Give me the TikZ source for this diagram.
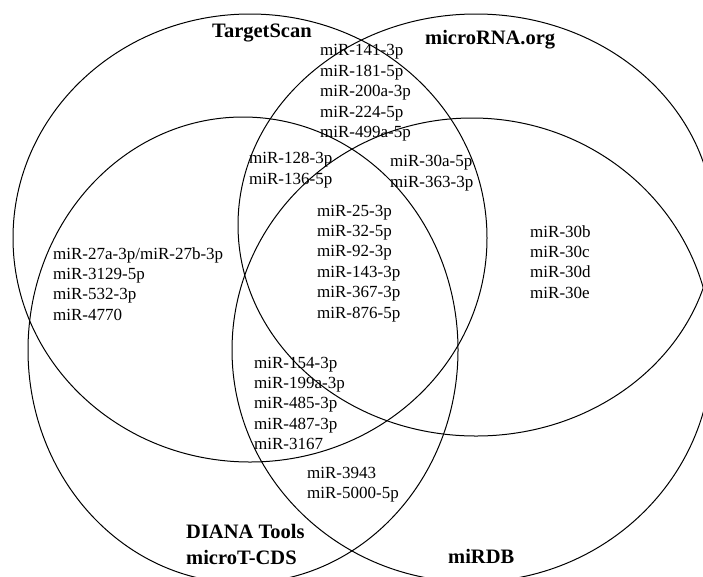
\documentclass[tikz,border=0pt]{standalone}
\usepackage{fontspec}
\setmainfont{Liberation Serif}
\usepackage{tikz}
\usetikzlibrary{positioning}
\newcommand{\mirfont}{\fontsize{17}{20.4}\selectfont}
\newcommand{\dbfont}{\fontsize{20.5}{26}\selectfont\bfseries}
\tikzset{
  setline/.style={line width=1pt},
  mirlist/.style={anchor=base west, align=left, inner sep=0pt, font=\mirfont},
  dblabel/.style={anchor=base west, align=left, inner sep=0pt, font=\dbfont},
}

\begin{document}
\begin{tikzpicture}[x=1pt,y=-1pt]
    \useasboundingbox (0,0) rectangle (703,576);
    \clip (0,0) rectangle (703,576);

    % Four databases
    \draw[setline] (250,238) ellipse [x radius=237pt, y radius=224pt]; % TargetScan
    \draw[setline] (476,225) ellipse [x radius=238pt, y radius=211pt]; % microRNA.org
    \draw[setline] (243,350) ellipse [x radius=215pt, y radius=233pt]; % DIANA
    \draw[setline] (472,350) ellipse [x radius=240pt, y radius=232pt]; % miRDB

    % Database names (base = last line)
    \node[dblabel] (ts) at (212,37) {TargetScan};
    \node[dblabel] (mo) at (425,44) {microRNA.org};
    \node[dblabel] (dt) at (186,564) {DIANA Tools\\microT-CDS};
    \node[dblabel] (mdb) at (448,563) {miRDB};

    % miRNAs in the overlaps
    \node[mirlist] (tm) at (320,137.5) {miR-141-3p\\miR-181-5p\\miR-200a-3p\\miR-224-5p\\miR-499a-5p};
    \node[mirlist] (tmd) at (249,184) {miR-128-3p\\miR-136-5p};
    \node[mirlist] (tmr) at (390,187) {miR-30a-5p\\miR-363-3p};
    \node[mirlist] (all) at (317,318) {miR-25-3p\\miR-32-5p\\miR-92-3p\\miR-143-3p\\miR-367-3p\\miR-876-5p};
    \node[mirlist] (td) at (53,320.2) {miR-27a-3p/miR-27b-3p\\miR-3129-5p\\miR-532-3p\\miR-4770};
    \node[mirlist] (mr) at (530,298.2) {miR-30b\\miR-30c\\miR-30d\\miR-30e};
    \node[mirlist] (tdr) at (254,449.6) {miR-154-3p\\miR-199a-3p\\miR-485-3p\\miR-487-3p\\miR-3167};
    \node[mirlist] (dr) at (307,498.4) {miR-3943\\miR-5000-5p};
\end{tikzpicture}
\end{document}
